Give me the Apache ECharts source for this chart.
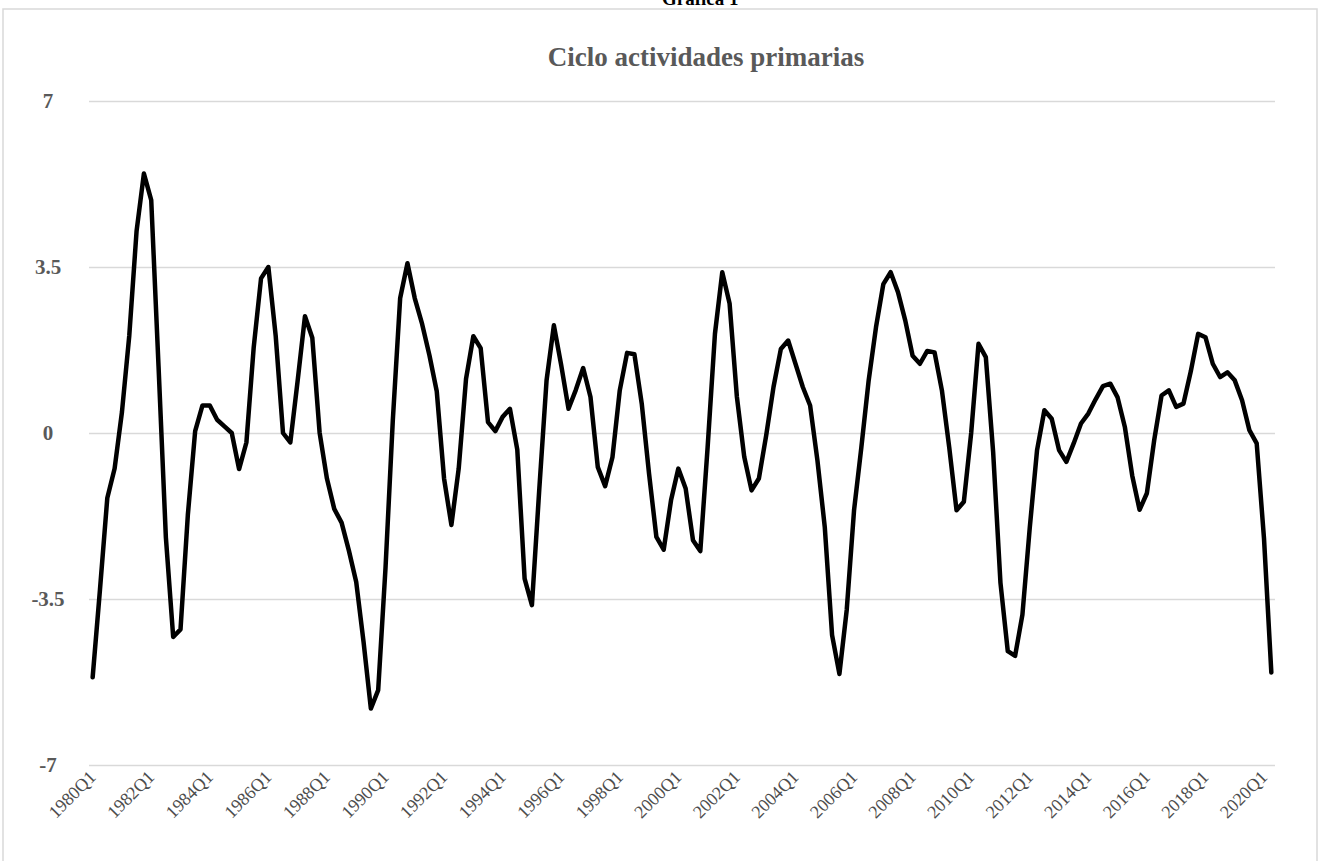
<!DOCTYPE html>
<html>
<head>
<meta charset="utf-8">
<title>Ciclo actividades primarias</title>
<script src="https://cdn.jsdelivr.net/npm/echarts@6/dist/echarts.min.js"></script>
<style>
  html, body { margin: 0; padding: 0; background: #fff; }
  #chart { width: 1321px; height: 861px; }
</style>
</head>
<body>
<div id="chart"></div>
<script>
// quarters from 1980Q1 to 2020Q2
const firstYear = 1980;
const quarterCount = 162;
const quarters = [];
for (let i = 0; i < quarterCount; i++) {
    quarters.push((firstYear + Math.floor(i / 4)) + 'Q' + (i % 4 + 1));
}

// cycle values
const cycle1980s = [
    -5.15, -3.3, -1.37, -0.75, 0.44, 2.05, 4.26, 5.47, 4.91, 1.4,
    -2.2, -4.3, -4.14, -1.73, 0.04, 0.58, 0.58, 0.28, 0.14, 0.0,
    -0.76, -0.2, 1.81, 3.26, 3.5, 2.05, 0.0, -0.2, 1.1, 2.46,
    2.01, 0.01, -0.96, -1.6, -1.89, -2.48, -3.14, -4.4, -5.81, -5.42
];
const cycle1990s = [
    -2.85, 0.27, 2.84, 3.58, 2.84, 2.3, 1.64, 0.88, -0.96, -1.94,
    -0.75, 1.14, 2.04, 1.79, 0.23, 0.04, 0.34, 0.51, -0.35, -3.07,
    -3.63, -1.2, 1.11, 2.27, 1.43, 0.51, 0.91, 1.37, 0.76, -0.72,
    -1.12, -0.51, 0.9, 1.69, 1.66, 0.62, -0.86, -2.19, -2.46, -1.42
];
const cycle2000s = [
    -0.75, -1.17, -2.26, -2.49, -0.3, 2.09, 3.39, 2.73, 0.76, -0.5,
    -1.21, -0.96, -0.05, 0.97, 1.77, 1.95, 1.46, 0.97, 0.58, -0.58,
    -1.98, -4.26, -5.08, -3.73, -1.63, -0.3, 1.11, 2.23, 3.14, 3.39,
    2.97, 2.37, 1.63, 1.46, 1.73, 1.7, 0.9, -0.3, -1.63, -1.45
];
const cycle2010s = [
    0.0, 1.88, 1.6, -0.4, -3.16, -4.6, -4.7, -3.83, -2.0, -0.36,
    0.48, 0.3, -0.36, -0.61, -0.22, 0.2, 0.41, 0.71, 0.99, 1.04,
    0.75, 0.12, -0.9, -1.62, -1.27, -0.15, 0.79, 0.9, 0.55, 0.62,
    1.3, 2.09, 2.02, 1.46, 1.18, 1.28, 1.11, 0.69, 0.06, -0.22
];
const cycle2020s = [-2.23, -5.05];
const cycleValues = cycle1980s.concat(cycle1990s, cycle2000s, cycle2010s, cycle2020s);

const yMin = -7;
const yMax = 7;
const yStep = 3.5;

const serif = '"Liberation Serif", "DejaVu Serif", serif';
const textGray = '#595959';

const chart = echarts.init(document.getElementById('chart'), null, { renderer: 'svg' });

chart.setOption({
    animation: false,
    backgroundColor: '#ffffff',
    title: {
        text: 'Ciclo actividades primarias',
        left: 701,
        top: 38,
        textAlign: 'center',
        textStyle: {
            fontFamily: serif,
            fontSize: 27,
            fontWeight: 'bold',
            color: textGray
        }
    },
    graphic: [
        {
            type: 'rect',
            shape: { x: 3, y: 9, width: 1314, height: 870 },
            style: { fill: 'none', stroke: '#d9d9d9', lineWidth: 1.5 },
            silent: true
        },
        {
            // page caption above the chart box, cut by the top edge as in the source
            type: 'text',
            left: 662,
            top: -11,
            style: {
                text: 'Gráfica 1',
                font: 'bold 19px ' + serif,
                fill: '#000'
            }
        }
    ],
    grid: {
        left: 89,
        right: 46,
        top: 101,
        bottom: 96,
        containLabel: false
    },
    xAxis: {
        type: 'category',
        data: quarters,
        boundaryGap: true,
        axisLine: { show: false },
        axisTick: { show: false },
        axisLabel: {
            interval: 7,
            rotate: 45,
            margin: 9,
            fontFamily: serif,
            fontSize: 18,
            color: '#4d4d4d'
        },
        splitLine: { show: false }
    },
    yAxis: {
        type: 'value',
        min: yMin,
        max: yMax,
        interval: yStep,
        axisLine: { show: false },
        axisTick: { show: false },
        axisLabel: {
            align: 'center',
            margin: 41,
            fontFamily: serif,
            fontSize: 21,
            fontWeight: 'bold',
            color: textGray
        },
        splitLine: { lineStyle: { color: '#d9d9d9', width: 1.3 } }
    },
    series: [{
        type: 'line',
        data: cycleValues,
        symbol: 'none',
        smooth: false,
        lineStyle: {
            color: '#000000',
            width: 4.5,
            cap: 'round',
            join: 'round'
        }
    }]
});
</script>
</body>
</html>
